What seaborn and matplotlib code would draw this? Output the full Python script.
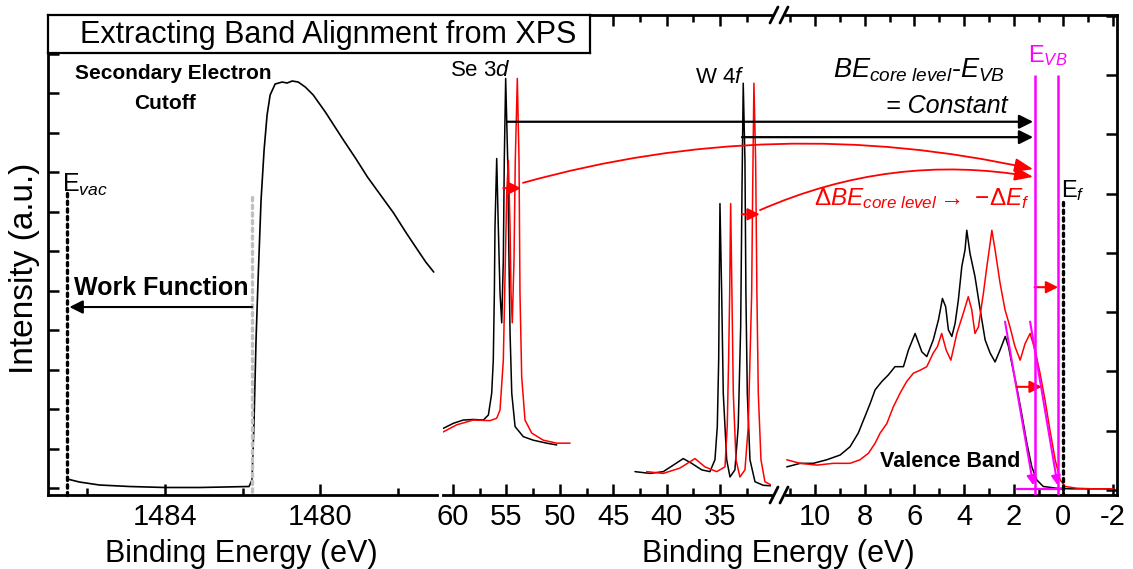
import matplotlib
matplotlib.use("Agg")
import matplotlib.pyplot as plt
import seaborn as sns
from matplotlib.patches import ConnectionPatch
from matplotlib.lines import Line2D
from matplotlib.ticker import MultipleLocator, NullFormatter

# ---------------- data ----------------
# Secondary electron cutoff (left panel)
sec_be = [1486.503, 1486.194, 1485.677, 1484.903, 1484.000, 1483.097, 1481.832, 1481.755,
          1481.703, 1481.652, 1481.600, 1481.523, 1481.445, 1481.368, 1481.290, 1481.161,
          1480.981, 1480.852, 1480.723, 1480.568, 1480.387, 1480.181, 1479.871, 1479.406,
          1479.097, 1478.787, 1478.452, 1478.116, 1477.806, 1477.497, 1477.290, 1477.084]
sec_int = [0.228, 0.152, 0.076, 0.038, 0.013, 0.013, 0.038, 0.203,
           1.722, 3.747, 5.266, 7.291, 8.557, 9.443, 9.949, 10.228,
           10.278, 10.253, 10.304, 10.278, 10.152, 9.949, 9.519, 8.810,
           8.354, 7.873, 7.418, 6.962, 6.481, 6.025, 5.722, 5.468]

# Se 3d
se_be_black = [60.91, 59.97, 59.04, 58.10, 57.16, 56.69, 56.38, 56.23, 56.13, 56.07, 55.91, 55.76,
               55.60, 55.44, 55.29, 55.20, 55.07, 54.88, 54.76, 54.66, 54.50, 54.19, 53.42, 52.48,
               51.23, 50.29]
se_int_black = [1.04, 1.125, 1.18, 1.19, 1.18, 1.265, 1.63, 2.19, 3.32, 4.44, 5.59, 4.44,
                3.32, 2.82, 3.88, 5.56, 6.94, 5.56, 3.88, 2.65, 1.63, 1.07, 0.90, 0.84,
                0.79, 0.76]
se_be_red = [60.91, 59.65, 58.10, 56.54, 55.91, 55.60, 55.29, 55.10, 54.97, 54.82, 54.66, 54.57,
             54.45, 54.29, 54.17, 53.98, 53.82, 53.73, 53.57, 53.26, 52.63, 51.54, 50.29, 49.04]
se_int_red = [0.98, 1.10, 1.18, 1.17, 1.21, 1.35, 2.19, 3.88, 5.01, 5.56, 4.44, 3.32,
              2.82, 3.88, 5.56, 6.94, 5.56, 3.32, 1.91, 1.18, 0.96, 0.84, 0.79, 0.79]

# W 4f
w_be_black = [42.96, 41.55, 40.31, 39.37, 38.44, 37.65, 36.71, 35.94, 35.47, 35.25, 35.12, 35.07,
              35.00, 34.84, 34.69, 34.37, 34.06, 33.60, 33.29, 33.06, 32.94, 32.82, 32.66, 32.57,
              32.44, 32.19, 31.72, 30.95, 30.16]
w_int_black = [0.31, 0.28, 0.31, 0.42, 0.53, 0.45, 0.34, 0.31, 0.51, 1.07, 2.19, 3.32,
               4.83, 3.32, 1.63, 0.51, 0.22, 0.34, 1.07, 2.75, 5.01, 6.86, 5.56, 3.32,
               1.63, 0.51, 0.14, 0.08, 0.07]
w_be_red = [41.86, 40.31, 38.75, 37.34, 36.40, 35.31, 34.53, 34.32, 34.19, 34.09, 34.00, 33.88,
            33.75, 33.50, 33.13, 32.66, 32.35, 32.03, 31.94, 31.82, 31.66, 31.54, 31.41, 31.16,
            30.79, 30.05]
w_int_red = [0.31, 0.28, 0.37, 0.53, 0.39, 0.31, 0.39, 1.07, 2.19, 3.32, 4.83, 3.32,
             1.63, 0.51, 0.22, 0.34, 1.07, 3.32, 5.01, 6.86, 5.56, 3.32, 1.63, 0.51,
             0.14, 0.07]

# Valence band
vb_be_black = [11.14, 10.60, 10.07, 9.53, 8.99, 8.59, 8.26, 7.99, 7.78, 7.58, 7.31, 7.05, 6.78,
               6.44, 6.24, 5.97, 5.70, 5.50, 5.24, 5.03, 4.87, 4.74, 4.63, 4.49, 4.36, 4.23,
               4.09, 3.96, 3.89, 3.76, 3.56, 3.35, 3.15, 2.95, 2.75, 2.55, 2.34, 2.21, 2.08,
               1.88, 1.68, 1.47, 1.27, 1.07, 0.81, 0.27, -0.27, -1.08, -1.88]
vb_int_black = [0.39, 0.45, 0.45, 0.51, 0.59, 0.73, 0.96, 1.24, 1.46, 1.69, 1.83, 1.94, 2.08,
                2.08, 2.36, 2.64, 2.33, 2.25, 2.53, 2.87, 3.23, 3.09, 2.70, 2.59, 2.81, 3.20,
                3.77, 4.05, 4.38, 3.99, 3.60, 3.04, 2.53, 2.31, 2.16, 2.36, 2.59, 2.42, 2.14,
                1.74, 1.29, 0.79, 0.39, 0.17, 0.06, 0.03, 0.02, 0.02, 0.02]
vb_be_red = [11.14, 10.60, 9.93, 9.26, 8.59, 8.19, 7.85, 7.58, 7.38, 7.11, 6.85, 6.58, 6.31,
             6.04, 5.77, 5.50, 5.24, 5.07, 4.90, 4.72, 4.53, 4.29, 4.03, 3.83, 3.69, 3.56,
             3.42, 3.22, 3.08, 2.95, 2.88, 2.75, 2.55, 2.35, 2.15, 1.95, 1.74, 1.54, 1.34,
             1.14, 0.94, 0.74, 0.54, 0.33, 0.13, -0.07, -0.54, -1.21, -2.01]
vb_int_red = [0.51, 0.45, 0.42, 0.45, 0.45, 0.51, 0.62, 0.79, 0.96, 1.12, 1.40, 1.63, 1.83,
              1.97, 2.02, 2.08, 2.31, 2.42, 2.64, 2.36, 2.19, 2.64, 2.98, 3.26, 3.04, 2.64,
              2.75, 3.32, 3.77, 4.16, 4.38, 4.05, 3.49, 3.04, 2.75, 2.42, 2.19, 2.47, 2.64,
              2.36, 1.97, 1.52, 1.01, 0.51, 0.17, 0.06, 0.03, 0.02, 0.02]

# annotation positions (eV)
e_vac = 1486.5
cutoff_be = 1481.755
evb_black = 1.16
evb_red = 0.21
e_fermi = 0.0
se_peak = (54.94, 55.29, 53.63)     # black peak, arrow start, arrow end
w_peak = (32.94, 32.97, 31.28)

title = "Extracting Band Alignment from XPS"
xlabel = "Binding Energy (eV)"
ylabel = "Intensity (a.u.)"

# ---------------- style ----------------
sns.set_theme(style="ticks")
plt.rcParams["font.family"] = ["Liberation Sans", "DejaVu Sans"]
plt.rcParams["mathtext.fontset"] = "custom"
plt.rcParams["mathtext.rm"] = "Liberation Sans"
plt.rcParams["mathtext.it"] = "Liberation Sans:italic"
plt.rcParams["mathtext.bf"] = "Liberation Sans:bold"
for key in ("text.color", "axes.labelcolor", "xtick.color", "ytick.color", "axes.edgecolor"):
    plt.rcParams[key] = "black"

RED = "#ff0000"
MAG = "#ff00ff"
W, H = 1133, 569
fig = plt.figure(figsize=(W / 100, H / 100), dpi=100)
fig.patch.set_facecolor("white")


def box(x0, y0, x1, y1):
    return [x0 / W, 1 - y1 / H, (x1 - x0) / W, (y1 - y0) / H]


ax_l = fig.add_axes(box(48, 53, 437, 495))
ax_m = fig.add_axes(box(443, 15, 771, 495))
ax_r = fig.add_axes(box(786, 15, 1117, 495))
ax_t = fig.add_axes(box(48, 15, 590, 53))

for ax in (ax_l, ax_m, ax_r):
    ax.set_facecolor("white")
    for s in ax.spines.values():
        s.set_linewidth(2.0)
        s.set_color("black")
    ax.tick_params(which="both", direction="in", width=1.8, colors="black",
                   labelcolor="black", labelsize=21, pad=6)
    ax.tick_params(which="major", length=8)
    ax.tick_params(which="minor", length=5)

# left panel
sns.lineplot(x=sec_be, y=sec_int, ax=ax_l, color="black", lw=1.2, estimator=None, sort=False)
ax_l.set_xlim(1487, 1477)
ax_l.set_ylim(-0.177, 11.013)
ax_l.xaxis.set_major_locator(MultipleLocator(4))
ax_l.xaxis.set_minor_locator(MultipleLocator(2))
ax_l.yaxis.set_major_locator(MultipleLocator(1))
ax_l.yaxis.set_major_formatter(NullFormatter())
ax_l.spines["top"].set_visible(False)
ax_l.spines["right"].set_visible(False)
ax_l.tick_params(axis="y", left=True, right=False)
ax_l.tick_params(axis="x", top=False)

# middle panel
sns.lineplot(x=se_be_black, y=se_int_black, ax=ax_m, color="black", lw=1.1, estimator=None, sort=False)
sns.lineplot(x=se_be_red, y=se_int_red, ax=ax_m, color=RED, lw=1.1, estimator=None, sort=False)
sns.lineplot(x=w_be_black, y=w_int_black, ax=ax_m, color="black", lw=1.1, estimator=None, sort=False)
sns.lineplot(x=w_be_red, y=w_int_red, ax=ax_m, color=RED, lw=1.1, estimator=None, sort=False)
ax_m.set_xlim(60.94, 30.22)
ax_m.set_ylim(-0.084, 8.01)
ax_m.xaxis.set_major_locator(MultipleLocator(5))
ax_m.xaxis.set_minor_locator(MultipleLocator(2.5))
ax_m.spines["left"].set_visible(False)
ax_m.spines["right"].set_visible(False)
ax_m.tick_params(axis="x", which="both", top=True, bottom=True, labeltop=False)
ax_m.tick_params(axis="y", left=False, right=False, labelleft=False)

# right panel
sns.lineplot(x=vb_be_black, y=vb_int_black, ax=ax_r, color="black", lw=1.1, estimator=None, sort=False)
sns.lineplot(x=vb_be_red, y=vb_int_red, ax=ax_r, color=RED, lw=1.1, estimator=None, sort=False)
ax_r.set_xlim(11.17, -2.16)
ax_r.set_ylim(-0.084, 8.01)
ax_r.xaxis.set_major_locator(MultipleLocator(2))
ax_r.xaxis.set_minor_locator(MultipleLocator(1))
ax_r.yaxis.set_major_locator(MultipleLocator(1))
ax_r.spines["left"].set_visible(False)
ax_r.tick_params(axis="x", which="both", top=True, bottom=True, labeltop=False)
ax_r.tick_params(axis="y", left=False, right=True, labelleft=False, labelright=False)
ax_r.set_xticks([10, 8, 6, 4, 2, 0, -2])
ax_r.set_xticklabels(["10", "8", "6", "4", "2", "0", "-2"])

for ax in (ax_l, ax_m, ax_r):
    ax.set_xlabel("")
    ax.set_ylabel("")

# ---------------- left annotations ----------------
ax_l.plot([e_vac, e_vac], [7.468, -0.177], color="black", lw=2.4, ls=(0, (1, 1.3)),
          dash_capstyle="round", clip_on=False)
ax_l.plot([cutoff_be, cutoff_be], [7.367, -0.177], color="#c0c0c0", lw=2.4, ls=(0, (1, 1.3)),
          dash_capstyle="round", clip_on=False)
ax_l.annotate("", xy=(1486.45, 4.582), xytext=(cutoff_be, 4.582),
              arrowprops=dict(arrowstyle="-|>", color="black", lw=1.5, mutation_scale=20,
                              shrinkA=0, shrinkB=0))
ax_l.text(1484.1, 5.063, "Work Function", fontsize=18, fontweight="bold", ha="center", va="center")
ax_l.text(1483.79, 10.506, "Secondary Electron", fontsize=15, fontweight="bold", ha="center", va="center")
ax_l.text(1484.0, 9.747, "Cutoff", fontsize=15, fontweight="bold", ha="center", va="center")
ax_l.text(1486.63, 7.494, r"E$_{vac}$", fontsize=18, ha="left", va="baseline")

# ---------------- middle annotations ----------------
ax_m.text(60.28, 6.98, r"Se 3$d$", fontsize=16, ha="left", va="baseline")
ax_m.text(37.34, 6.86, r"W 4$f$", fontsize=16, ha="left", va="baseline")
ax_m.annotate("", xy=(se_peak[2], 5.09), xytext=(se_peak[1], 5.09),
              arrowprops=dict(arrowstyle="-|>", color=RED, lw=1.5, mutation_scale=18,
                              shrinkA=0, shrinkB=0))
ax_m.annotate("", xy=(w_peak[2], 4.65), xytext=(w_peak[1], 4.65),
              arrowprops=dict(arrowstyle="-|>", color=RED, lw=1.5, mutation_scale=18,
                              shrinkA=0, shrinkB=0))

# ---------------- right annotations ----------------
ax_r.vlines([evb_black, evb_red], -0.084, 7.0, color=MAG, lw=1.8, zorder=4)
ax_r.plot([1.87, e_fermi], [0.02, 0.02], color=MAG, lw=1.6, zorder=4)
ax_r.plot([e_fermi, e_fermi], [4.86, -0.084], color="black", lw=2.4, ls=(0, (1, 1.3)),
          dash_capstyle="round", zorder=4)
ax_r.annotate("", xy=(1.21, 0.08), xytext=(2.35, 2.84),
              arrowprops=dict(arrowstyle="-|>", color=MAG, lw=1.5, mutation_scale=14,
                              shrinkA=0, shrinkB=0))
ax_r.annotate("", xy=(0.23, 0.08), xytext=(1.34, 2.84),
              arrowprops=dict(arrowstyle="-|>", color=MAG, lw=1.5, mutation_scale=14,
                              shrinkA=0, shrinkB=0))
ax_r.annotate("", xy=(evb_red, 3.42), xytext=(evb_black, 3.42),
              arrowprops=dict(arrowstyle="-|>", color=RED, lw=1.5, mutation_scale=18,
                              shrinkA=0, shrinkB=0))
ax_r.annotate("", xy=(0.87, 1.74), xytext=(1.88, 1.74),
              arrowprops=dict(arrowstyle="-|>", color=RED, lw=1.5, mutation_scale=18,
                              shrinkA=0, shrinkB=0))
ax_r.text(1.42, 7.22, r"E$_{VB}$", fontsize=17, color=MAG, ha="left", va="baseline")
ax_r.text(0.09, 4.94, r"E$_{f}$", fontsize=17, color="black", ha="left", va="baseline")
ax_r.text(2.35, 6.96, r"$BE_{core\ level}$-$E_{VB}$", fontsize=19.5, ha="right", va="baseline")
ax_r.text(2.23, 6.36, "= Constant", fontsize=18, style="italic", ha="right", va="baseline")
ax_r.text(1.34, 4.81, r"$\Delta BE_{core\ level}$$\rightarrow$ $-\Delta E_{f}$", fontsize=17.5,
          color=RED, ha="right", va="baseline")
ax_r.text(7.38, 0.39, "Valence Band", fontsize=15.5, fontweight="bold", ha="left", va="baseline")


def connect(xyA, axA, xyB, axB, color, lw, rad=0.0, ms=20, hl=0.4, hw=0.2):
    cp = ConnectionPatch(xyA=xyA, coordsA="data", axesA=axA, xyB=xyB, coordsB="data", axesB=axB,
                         arrowstyle=f"-|>,head_length={hl},head_width={hw}",
                         connectionstyle=f"arc3,rad={rad}", color=color, lw=lw,
                         mutation_scale=ms, shrinkA=0, shrinkB=0, zorder=6)
    fig.add_artist(cp)


connect((se_peak[0], 6.21), ax_m, (1.22, 6.21), ax_r, "black", 1.6, ms=21)
connect((w_peak[0], 5.95), ax_m, (1.22, 5.95), ax_r, "black", 1.6, ms=21)
connect((53.45, 5.18), ax_m, (1.22, 5.41), ax_r, RED, 1.3, rad=-0.125, ms=14, hl=0.8, hw=0.3)
connect((31.25, 4.72), ax_m, (1.22, 5.28), ax_r, RED, 1.3, rad=-0.15, ms=14, hl=0.8, hw=0.3)

# axis-break marks
for cx in (774, 784):
    for cy in (15, 495):
        fig.add_artist(Line2D([(cx - 4) / W, (cx + 4) / W], [1 - (cy + 8) / H, 1 - (cy - 8) / H],
                              transform=fig.transFigure, color="black", lw=2.0))

# title box
ax_t.set_xticks([])
ax_t.set_yticks([])
ax_t.set_facecolor("white")
for s in ax_t.spines.values():
    s.set_linewidth(1.6)
    s.set_color("black")
ax_t.set_zorder(10)
ax_t.text(0.059, 0.48, title, fontsize=22, ha="left", va="center", transform=ax_t.transAxes)

# axis labels
fig.text(241 / W, 1 - 562 / H, xlabel, fontsize=22, ha="center", va="baseline")
fig.text(778 / W, 1 - 562 / H, xlabel, fontsize=22, ha="center", va="baseline")
fig.text(25 / W, 1 - 268 / H, ylabel, fontsize=24, rotation=90, ha="center", va="center")

fig.savefig("out.png", dpi=100, facecolor="white")
